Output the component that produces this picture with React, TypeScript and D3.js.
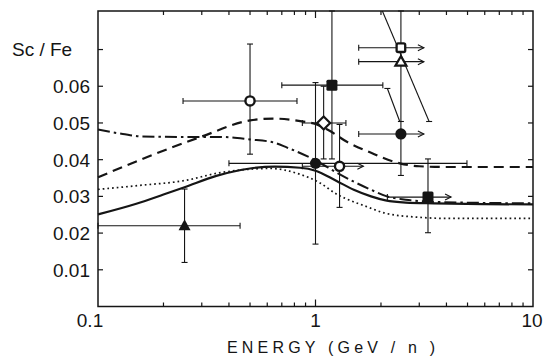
import React from "react";
import * as d3 from "d3";

// ---- data ----
const xTickLabels = [0.1, 1, 10];
const yTickValues = [0.01, 0.02, 0.03, 0.04, 0.05, 0.06, 0.07];
const yTickLabels = ["0.01", "0.02", "0.03", "0.04", "0.05", "0.06"];

const solidCurve: [number, number][] = [
  [0.1, 0.0251], [0.15, 0.028], [0.2, 0.0305], [0.25, 0.0325], [0.35, 0.0356],
  [0.5, 0.0376], [0.65, 0.0381], [0.85, 0.0378], [1.0, 0.037], [1.25, 0.0342],
  [1.5, 0.0318], [1.8, 0.03], [2.1, 0.0289], [2.6, 0.0283], [3.5, 0.0281],
  [6, 0.0279], [10, 0.0278],
];
const dottedCurve: [number, number][] = [
  [0.1, 0.0319], [0.156, 0.033], [0.25, 0.0343], [0.36, 0.0364], [0.5, 0.0374],
  [0.62, 0.0376], [0.85, 0.036], [1.04, 0.0338], [1.26, 0.0305], [1.5, 0.0285],
  [1.65, 0.0276], [2.1, 0.0254], [3.0, 0.0243], [4, 0.024], [10, 0.024],
];
const dashedCurve: [number, number][] = [
  [0.1, 0.0352], [0.173, 0.041], [0.3, 0.0463], [0.5, 0.0507], [0.64, 0.0512],
  [0.85, 0.0505], [1.0, 0.0497], [1.15, 0.048], [1.4, 0.0448], [1.78, 0.042],
  [2.44, 0.039], [3.0, 0.0382], [4, 0.038], [10, 0.038],
];
const dashDotCurve: [number, number][] = [
  [0.1, 0.0482], [0.13, 0.047], [0.16, 0.0463], [0.25, 0.0462], [0.36, 0.0462],
  [0.5, 0.0455], [0.64, 0.0447], [0.74, 0.0433], [1.0, 0.0398], [1.25, 0.0365],
  [1.5, 0.034], [1.8, 0.0318], [2.13, 0.03], [2.6, 0.0291], [3.5, 0.0285],
  [10, 0.0281],
];

type Pt = {
  e: number; v: number; marker: string;
  xlo?: number; xhi?: number; arrow?: boolean;
  ylo?: number; yhi?: number; ylocap?: boolean; yhicap?: boolean;
};
const points: Pt[] = [
  { e: 0.25, v: 0.022, marker: "triFilled", xlo: 0.1, xhi: 0.45, ylo: 0.012, yhi: 0.032 },
  { e: 0.5, v: 0.056, marker: "circOpen", xlo: 0.246, xhi: 0.822, ylo: 0.0415, yhi: 0.0715 },
  { e: 1.0, v: 0.039, marker: "circFilled", xlo: 0.4, xhi: 4.97, ylo: 0.017, yhi: 0.061 },
  { e: 1.09, v: 0.05, marker: "diamOpen", xlo: 0.87, xhi: 1.38, ylo: 0.0402, yhi: 0.06 },
  { e: 1.19, v: 0.0603, marker: "sqFilled", xlo: 0.7, xhi: 2.04, ylo: 0.0402, yhi: 0.0805 },
  { e: 1.29, v: 0.0382, marker: "circOpen", xlo: 0.87, xhi: 1.66, arrow: true, ylo: 0.027, yhi: 0.0496 },
  { e: 2.47, v: 0.047, marker: "circFilled", xlo: 1.58, xhi: 3.15, arrow: true, ylo: 0.0357, yhi: 0.0504, yhicap: false },
  { e: 2.47, v: 0.0705, marker: "sqOpen", xlo: 1.58, xhi: 3.15, arrow: true, ylo: 0.0504, yhi: 0.0805 },
  { e: 2.47, v: 0.0667, marker: "triOpen", xlo: 1.58, xhi: 3.15, arrow: true },
  { e: 3.29, v: 0.0298, marker: "sqFilled", xlo: 2.14, xhi: 4.2, arrow: true, ylo: 0.0201, yhi: 0.0402 },
];

const slantLines: [number, number, number, number][] = [
  [2.14, 0.0594, 2.44, 0.0504],
  [2.03, 0.0805, 3.33, 0.0504],
];

// ---- layout ----
const W = 544, H = 358;
const x = d3.scaleLog().domain([0.1, 10]).range([98, 533]);
const y = d3.scaleLinear().domain([0, 0.0805]).range([306.5, 11]);
const INK = "#151515";
const FONT = "'Liberation Sans', Arial, sans-serif";

const line = d3.line<[number, number]>()
  .x((d) => x(d[0]))
  .y((d) => y(d[1]))
  .curve(d3.curveMonotoneX);

function Marker({ p }: { p: Pt }) {
  const cx = x(p.e), cy = y(p.v);
  switch (p.marker) {
    case "triFilled":
      return <path d={`M${cx},${cy - 6.5} L${cx + 6},${cy + 4.5} L${cx - 6},${cy + 4.5} Z`} fill={INK} />;
    case "triOpen":
      return <path d={`M${cx},${cy - 5.5} L${cx + 5.5},${cy + 4} L${cx - 5.5},${cy + 4} Z`} fill="#fff" stroke={INK} strokeWidth={2.2} />;
    case "circOpen":
      return <circle cx={cx} cy={cy} r={4.6} fill="#fff" stroke={INK} strokeWidth={2.4} />;
    case "circFilled":
      return <circle cx={cx} cy={cy} r={5.6} fill={INK} />;
    case "diamOpen":
      return <path d={`M${cx},${cy - 6.5} L${cx + 6.5},${cy} L${cx},${cy + 6.5} L${cx - 6.5},${cy} Z`} fill="#fff" stroke={INK} strokeWidth={2.2} />;
    case "sqFilled":
      return <rect x={cx - 5.5} y={cy - 5.5} width={11} height={11} rx={1.5} fill={INK} />;
    case "sqOpen":
      return <rect x={cx - 4.3} y={cy - 4.3} width={8.6} height={8.6} rx={1.5} fill="#fff" stroke={INK} strokeWidth={2.3} />;
  }
  return null;
}

function ErrBars({ p }: { p: Pt }) {
  const cx = x(p.e), cy = y(p.v);
  const c = 3;
  const els: React.ReactNode[] = [];
  if (p.xlo !== undefined && p.xhi !== undefined) {
    const x0 = x(p.xlo), x1 = x(p.xhi);
    els.push(<line key="h" x1={x0} y1={cy} x2={x1} y2={cy} />);
    els.push(<line key="hc0" x1={x0} y1={cy - c} x2={x0} y2={cy + c} />);
    if (p.arrow) {
      els.push(<path key="ar" d={`M${x1 - 6},${cy - 3} L${x1},${cy} L${x1 - 6},${cy + 3}`} fill="none" />);
    } else {
      els.push(<line key="hc1" x1={x1} y1={cy - c} x2={x1} y2={cy + c} />);
    }
  }
  if (p.ylo !== undefined && p.yhi !== undefined) {
    const y0 = y(p.ylo), y1 = y(p.yhi);
    els.push(<line key="v" x1={cx} y1={y0} x2={cx} y2={y1} />);
    if (p.ylocap !== false) els.push(<line key="vc0" x1={cx - c} y1={y0} x2={cx + c} y2={y0} />);
    if (p.yhicap !== false) els.push(<line key="vc1" x1={cx - c} y1={y1} x2={cx + c} y2={y1} />);
  }
  return <g stroke={INK} strokeWidth={1.1}>{els}</g>;
}

export default function App() {
  const [x0, x1] = x.range();
  const [yb, yt] = y.range();
  const minor: number[] = [];
  for (const dec of [0.1, 1]) for (let k = 2; k <= 9; k++) minor.push(dec * k);

  return (
    <svg width={W} height={H} style={{ position: "fixed", left: 0, top: 0, background: "#fff" }}>
      <rect width={W} height={H} fill="#fff" />
      {/* curves */}
      <g fill="none" stroke={INK}>
        <path d={line(dottedCurve) || ""} strokeWidth={1.7} strokeDasharray="1.7 3" />
        <path d={line(dashDotCurve) || ""} strokeWidth={2} strokeDasharray="12 4 2.5 4" />
        <path d={line(dashedCurve) || ""} strokeWidth={2.2} strokeDasharray="10 6" />
        <path d={line(solidCurve) || ""} strokeWidth={2.2} />
      </g>
      {/* slant lines */}
      <g stroke={INK} strokeWidth={1.1}>
        {slantLines.map((s, i) => (
          <line key={i} x1={x(s[0])} y1={y(s[1])} x2={x(s[2])} y2={y(s[3])} />
        ))}
        <line x1={x(3.33) - 3} y1={y(0.0504)} x2={x(3.33) + 3} y2={y(0.0504)} />
        <line x1={x(2.14) - 3} y1={y(0.0594)} x2={x(2.14) + 3} y2={y(0.0594)} />
      </g>
      {points.map((p, i) => <ErrBars key={"e" + i} p={p} />)}
      {points.map((p, i) => <Marker key={"m" + i} p={p} />)}
      {/* frame */}
      <rect x={x0} y={yt} width={x1 - x0} height={yb - yt} fill="none" stroke={INK} strokeWidth={1.5} />
      {/* x ticks */}
      <g stroke={INK} strokeWidth={1.2}>
        {minor.map((t, i) => (
          <g key={i}>
            <line x1={x(t)} y1={yb} x2={x(t)} y2={yb - 4} />
            <line x1={x(t)} y1={yt} x2={x(t)} y2={yt + 4} />
          </g>
        ))}
        <line x1={x(1)} y1={yb} x2={x(1)} y2={yb - 7} />
        <line x1={x(1)} y1={yt} x2={x(1)} y2={yt + 7} />
        {yTickValues.map((t, i) => (
          <g key={"y" + i}>
            <line x1={x0} y1={y(t)} x2={x0 + 5} y2={y(t)} />
            <line x1={x1} y1={y(t)} x2={x1 - 5} y2={y(t)} />
          </g>
        ))}
      </g>
      {/* labels */}
      <g fontFamily={FONT} fontSize={19} fill={INK}>
        {yTickLabels.map((l, i) => (
          <text key={i} x={90} y={y(yTickValues[i])} dy="0.36em" textAnchor="end">{l}</text>
        ))}
        <text x={12} y={y(0.07)} dy="0.36em" textAnchor="start">Sc / Fe</text>
        {xTickLabels.map((t, i) => (
          <text key={"x" + i} x={x(t) + (i === 0 ? -8 : i === 2 ? -1 : 0)} y={327} textAnchor="middle">{String(t)}</text>
        ))}
        <text x={227} y={353} fontSize={16} textLength={208} lengthAdjust="spacing">ENERGY  (GeV / n )</text>
      </g>
    </svg>
  );
}
